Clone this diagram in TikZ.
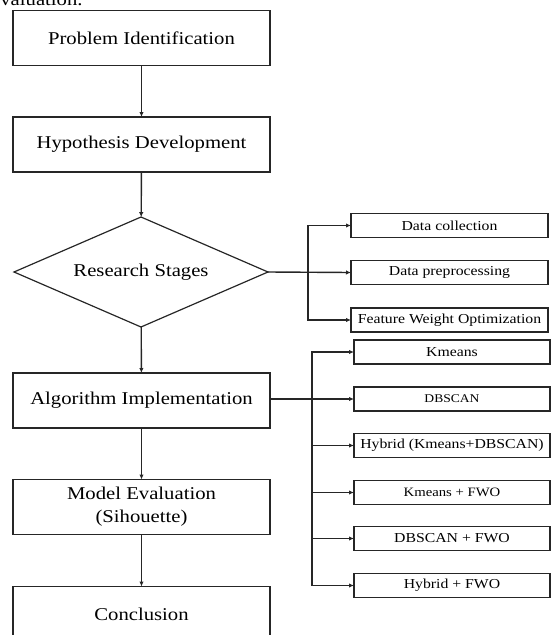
\documentclass[tikz,border=0pt]{standalone}
\usepackage{fontspec}
\setmainfont{Liberation Serif}[FakeStretch=1.15]
\usetikzlibrary{shapes.geometric,arrows.meta}
\tikzset{
  mainbox/.style={draw=black!85, line width=1.2pt, minimum width=257pt, minimum height=55pt, inner sep=0pt, outer sep=0pt, font=\fontsize{18}{23}\selectfont, align=center},
  smallbox/.style={draw=black!85, line width=1.2pt, minimum width=197pt, minimum height=24pt, inner sep=0pt, outer sep=0pt, font=\fontsize{13.7}{16}\selectfont},
  decision/.style={draw=black!85, line width=1.2pt, shape=diamond, aspect=2.31, minimum width=254pt, minimum height=110pt, inner sep=0pt, outer sep=0pt, font=\fontsize{18}{23}\selectfont},
  conn/.style={draw=black!85, line width=1.4pt},
  arr/.style={conn, -{Latex[length=5pt,width=4.5pt]}}
}
\begin{document}
\begin{tikzpicture}[x=1pt,y=-1pt]
\useasboundingbox (0,0) rectangle (552,635);
\clip (0,0) rectangle (552,635);
\node[anchor=base west, font=\fontsize{18}{23}\selectfont, inner sep=0pt] (cut) at (-9,5) {evaluation.};
% main column
\node[mainbox] (pi) at (141.5,38) {Problem Identification};
\node[mainbox] (hd) at (141.5,144.5) {Hypothesis Development};
\node[decision] (rs) at (141,272) {Research Stages};
\node[mainbox] (ai) at (141.5,400.5) {Algorithm Implementation};
\node[mainbox] (me) at (141.5,507) {Model Evaluation\\(Sihouette)};
\node[mainbox] (co) at (141.5,614) {Conclusion};
% first group
\node[smallbox] (dc) at (449.5,225.5) {Data collection};
\node[smallbox] (dp) at (449.5,272.5) {Data preprocessing};
\node[smallbox] (fw) at (449.5,320) {Feature Weight Optimization};
% second group
\node[smallbox, minimum width=196pt] (km) at (452,352) {Kmeans};
\node[smallbox, minimum width=196pt, font=\fontsize{11.8}{14}\selectfont] (db) at (452,399) {DBSCAN};
\node[smallbox, minimum width=196pt] (hy) at (452,445.5) {Hybrid (Kmeans+DBSCAN)};
\node[smallbox, minimum width=196pt, font=\fontsize{12.8}{15}\selectfont] (kf) at (452,492.5) {Kmeans + FWO};
\node[smallbox, minimum width=196pt] (df) at (452,538.5) {DBSCAN + FWO};
\node[smallbox, minimum width=196pt] (hf) at (452,585.5) {Hybrid + FWO};
% main arrows
\draw[arr] (pi) -- (hd);
\draw[arr] (hd) -- (rs);
\draw[arr] (rs) -- (ai);
\draw[arr] (ai) -- (me);
\draw[arr] (me) -- (co);
% first branch
\coordinate (j1) at (308,272.5);
\draw[arr] (rs.east) -- (dp.west);
\draw[arr] (j1) |- (dc.west);
\draw[arr] (j1) |- (fw.west);
% second branch
\coordinate (j2) at (312,399);
\draw[arr] (ai.east |- db.west) -- (db.west);
\draw[arr] (j2) |- (km.west);
\draw[arr] (j2) |- (hy.west);
\draw[arr] (j2) |- (kf.west);
\draw[arr] (j2) |- (df.west);
\draw[arr] (j2) |- (hf.west);
\end{tikzpicture}
\end{document}
